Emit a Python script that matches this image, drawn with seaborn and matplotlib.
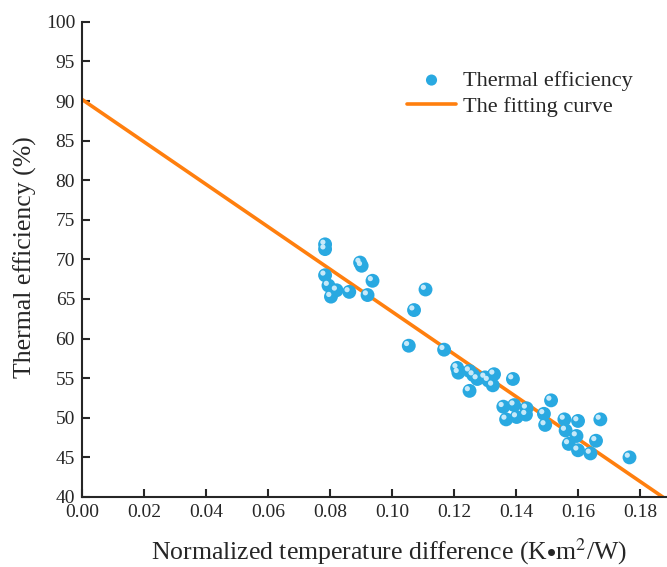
import numpy as np
import pandas as pd
import matplotlib
matplotlib.use("Agg")
import matplotlib.pyplot as plt
import matplotlib.transforms as mtransforms
import seaborn as sns

# measured points (normalized temperature difference, thermal efficiency)
norm_dt = [0.0784, 0.0784, 0.0897, 0.0902, 0.0784, 0.0937, 0.0795, 0.0821,
           0.0862, 0.0803, 0.0921, 0.1108, 0.1071, 0.1054, 0.1168,
           0.1210, 0.1214, 0.1250, 0.1262, 0.1275, 0.1300, 0.1311, 0.1329,
           0.1325, 0.1390, 0.1250, 0.1359, 0.1394, 0.1368, 0.1402, 0.1432,
           0.1434, 0.1490, 0.1494, 0.1513, 0.1556, 0.1600, 0.1672, 0.1560,
           0.1595, 0.1570, 0.1600, 0.1658, 0.1640, 0.1766]
efficiency = [71.9, 71.3, 69.6, 69.2, 68.0, 67.3, 66.7, 66.1,
              65.9, 65.3, 65.5, 66.2, 63.6, 59.1, 58.6,
              56.3, 55.7, 55.9, 55.4, 54.9, 55.1, 54.7, 55.5,
              54.1, 54.9, 53.4, 51.4, 51.6, 49.8, 50.1, 50.4,
              51.2, 50.5, 49.1, 52.2, 49.8, 49.6, 49.8, 48.4,
              47.7, 46.7, 45.9, 47.1, 45.5, 45.0]

# fitted line
fit_intercept = 90.2
fit_slope = -268.0
fit_x = [0.0, 0.19]

df = pd.DataFrame({"x": norm_dt, "y": efficiency})
fit_df = pd.DataFrame({"x": fit_x, "y": [fit_intercept + fit_slope * v for v in fit_x]})

sns.set_style("ticks")
plt.rcParams['font.family'] = ['Liberation Serif', 'DejaVu Serif']
plt.rcParams['mathtext.fontset'] = 'stix'

fig = plt.figure(figsize=(6.67, 5.67), dpi=100)
ax = fig.add_axes([0.123, 0.1235, 0.877, 0.838])

blue = "#29a9e1"
orange = "#ff7f0e"

sns.lineplot(data=fit_df, x="x", y="y", ax=ax, color=orange, linewidth=2.6,
             label="The fitting curve", zorder=2)
sns.scatterplot(data=df, x="x", y="y", ax=ax, color=blue, s=100, edgecolor="none",
                label="Thermal efficiency", zorder=3)
# little shine on each ball
shine = mtransforms.offset_copy(ax.transData, fig=fig, x=-2.2, y=2.2, units='dots')
ax.scatter(df["x"], df["y"], s=14, color="#d9f1fc", edgecolor="none", alpha=0.9,
           transform=shine, zorder=4)

ax.set_xlim(0, 0.1887)
ax.set_ylim(40, 100)
ax.set_xticks(np.arange(0, 0.181, 0.02))
ax.set_yticks(np.arange(40, 101, 5))
ax.set_xticklabels([f"{v:.2f}" for v in np.arange(0, 0.181, 0.02)])

sns.despine(ax=ax)
for s in ["left", "bottom"]:
    ax.spines[s].set_linewidth(1.5)
ax.tick_params(direction="in", length=6, width=1.5, labelsize=14, pad=5)

ax.set_xlabel(r"Normalized temperature difference (K$\bullet$m$^2$/W)", fontsize=18.5, labelpad=11)
ax.xaxis.label.set_x(0.525)
ax.set_ylabel("Thermal efficiency (%)", fontsize=18.5, labelpad=6)
ax.yaxis.label.set_y(0.505)

handles, labels = ax.get_legend_handles_labels()
order = [labels.index("Thermal efficiency"), labels.index("The fitting curve")]
ax.legend([handles[i] for i in order], [labels[i] for i in order],
          loc="upper right", bbox_to_anchor=(0.975, 0.94), frameon=False,
          fontsize=16, handlelength=2.2, handletextpad=0.3, labelspacing=0.25,
          markerscale=0.8)

fig.savefig("out.png", dpi=100)
